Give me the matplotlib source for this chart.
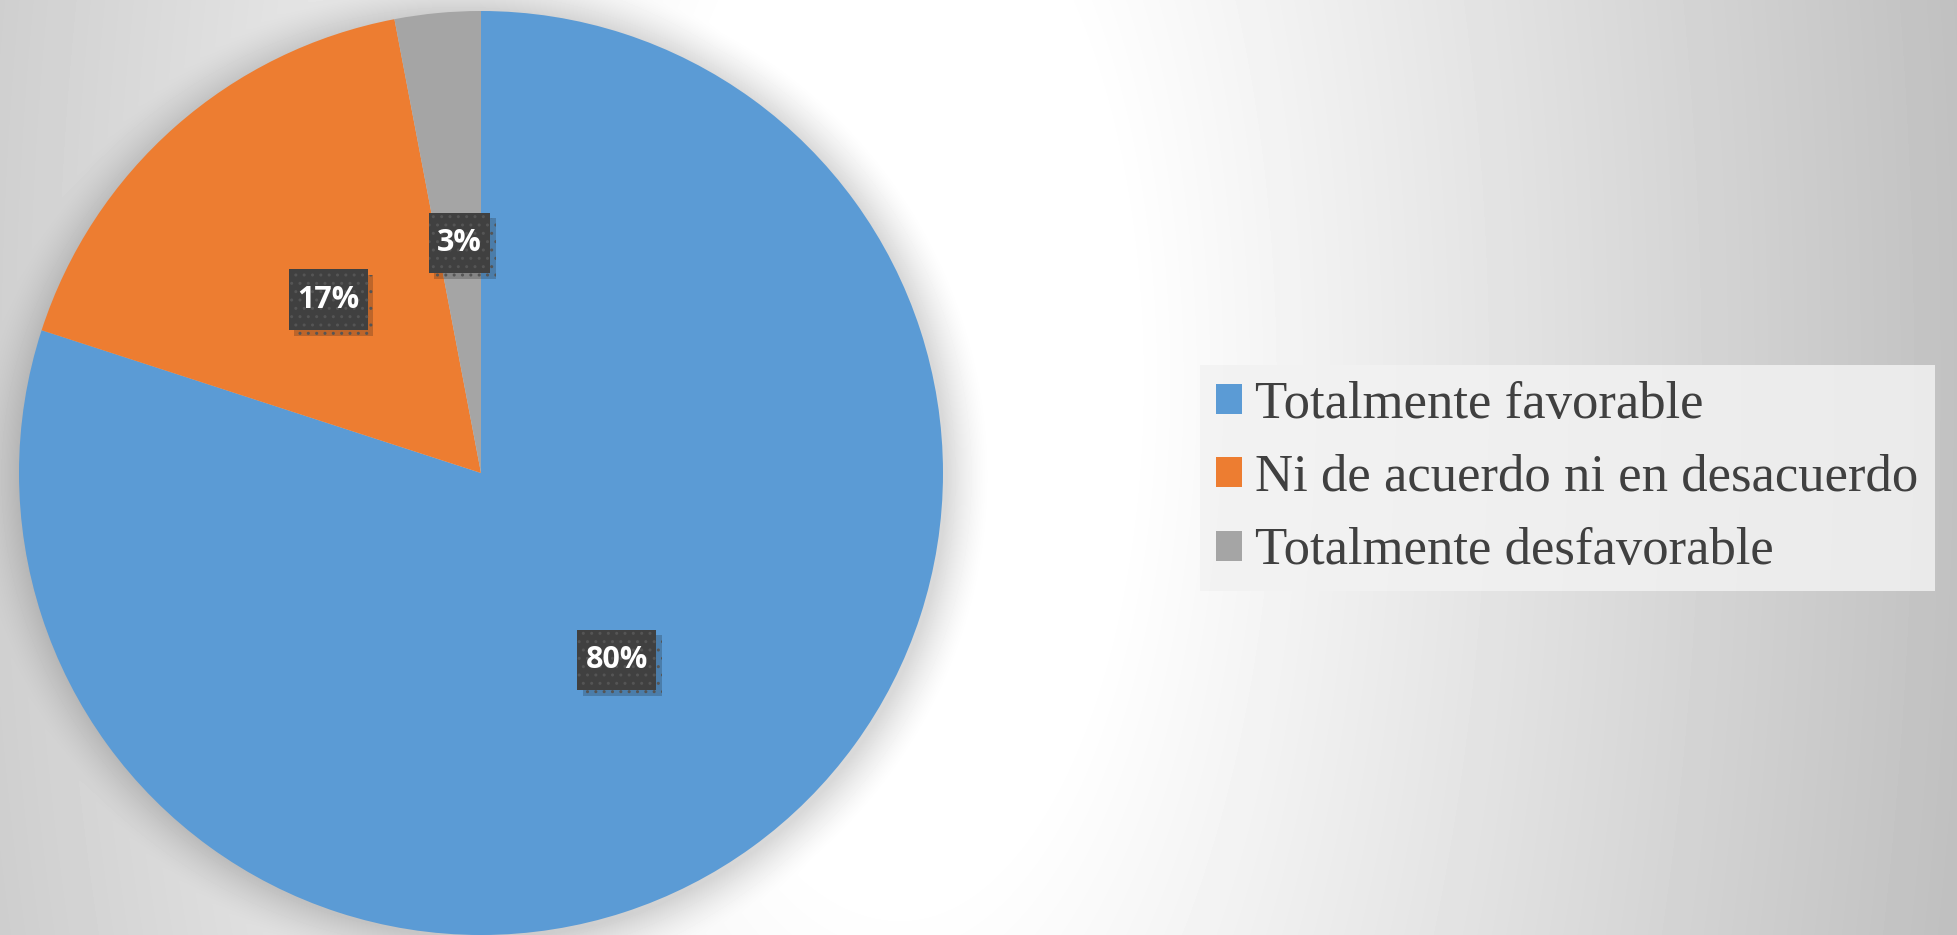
import numpy as np
import matplotlib
matplotlib.use("Agg")
import matplotlib.pyplot as plt
import matplotlib.patheffects as pe
from matplotlib.path import Path

labels = ["Totalmente favorable", "Ni de acuerdo ni en desacuerdo", "Totalmente desfavorable"]
values = [80, 17, 3]
colors = ["#5B9BD5", "#ED7D31", "#A5A5A5"]

W, H = 1958, 935
fig = plt.figure(figsize=(W / 100, H / 100), dpi=100)

# background: soft grey gradient with white glow in the middle + pie halo
yy, xx = np.mgrid[0:H, 0:W].astype(float)
cx, cy = 900.0, 380.0
dx = xx - cx
dx = np.where(dx < 0, dx * 0.95, dx)
d = np.hypot(dx, (yy - cy) * 0.45)
v = 1 - 0.25 * np.clip((d - 230) / 850, 0, 1)
pcx, pcy, R = 481.0, 473.0, 462.0
dp = np.hypot(xx - pcx - 3, yy - pcy - 3)
halo = np.clip(1 - (dp - R) / 45, 0, 1) ** 1.5
v = v * (1 - 0.15 * halo)
bg = fig.add_axes([0, 0, 1, 1], zorder=0)
bg.imshow(v, cmap="gray", vmin=0, vmax=1, aspect="auto", interpolation="bilinear")
bg.axis("off")

ax = fig.add_axes([(pcx - R) / W, (H - pcy - R) / H, 2 * R / W, 2 * R / H], zorder=1)
wedges, _, autotexts = ax.pie(values, colors=colors, startangle=90, counterclock=False,
                              autopct="%.0f%%", pctdistance=0.5, radius=1,
                              wedgeprops=dict(linewidth=0))
ax.set_xlim(-1, 1)
ax.set_ylim(-1, 1)
ax.set_aspect("equal")
ax.axis("off")


def label_box(x0, y0, width, height, mutation_size):
    # taller than wide padding, like the Excel data-label callouts
    px, py = 0.27 * mutation_size, 0.5 * mutation_size
    return Path([(x0 - px, y0 - py), (x0 + width + px, y0 - py), (x0 + width + px, y0 + height + py),
                 (x0 - px, y0 + height + py), (x0 - px, y0 - py)], closed=True)


for t in autotexts:
    t.set_fontfamily("Open Sans")
    t.set_fontweight("bold")
    t.set_fontsize(22)
    t.set_color("white")
    t.set_bbox(dict(boxstyle=label_box, facecolor="#404040", edgecolor="#555555",
                    linewidth=0, hatch=".."))
    t.get_bbox_patch().set_path_effects([pe.SimplePatchShadow(offset=(4, -4), alpha=0.22), pe.Normal()])

leg = fig.legend(wedges, labels, loc="center left", bbox_to_anchor=(1200 / W, 1 - 478 / H),
                 frameon=True, fancybox=False, facecolor="#f2f2f2", edgecolor="none", framealpha=0.85,
                 prop=dict(family="Liberation Serif", size=38), labelcolor="#404040",
                 handlelength=0.5, handleheight=0.5, handletextpad=0.25, labelspacing=0.48,
                 borderpad=0.3, borderaxespad=0)

fig.savefig("out.png", dpi=100)
